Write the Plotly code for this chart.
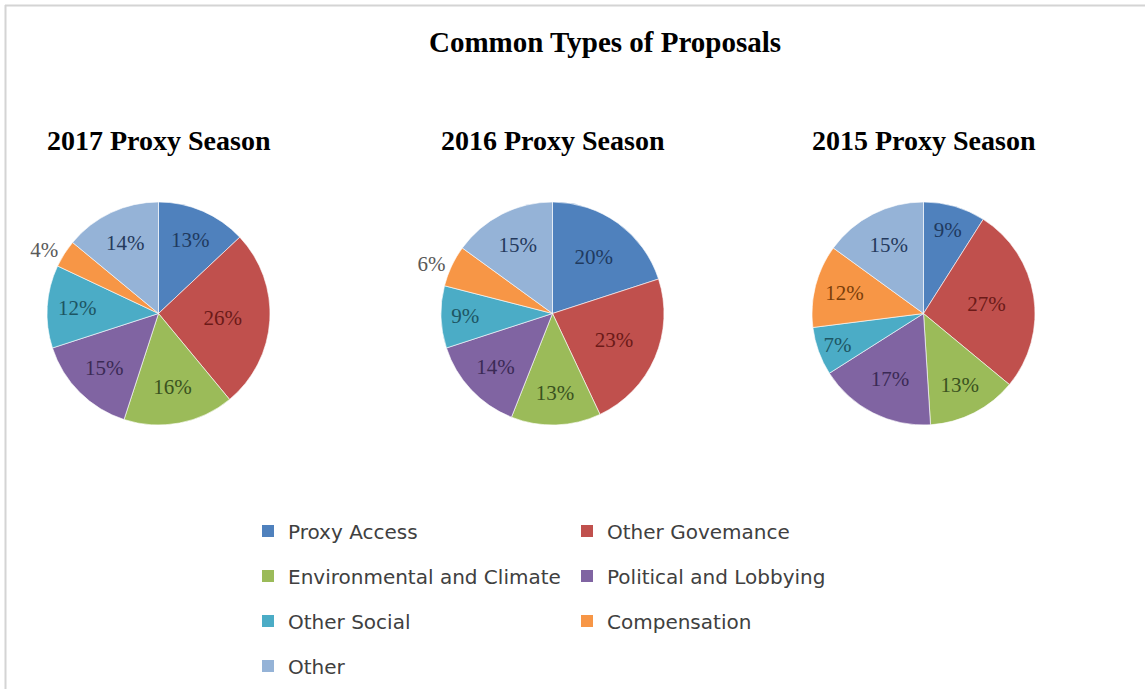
import plotly.graph_objects as go

# Proposal categories, in slice order (clockwise from 12 o'clock)
categories = [
    "Proxy Access",
    "Other Governance",
    "Environmental and Climate",
    "Political and Lobbying",
    "Other Social",
    "Compensation",
    "Other",
]
legend_names = [
    "Proxy Access",
    "Other Govemance",
    "Environmental and Climate",
    "Political and Lobbying",
    "Other Social",
    "Compensation",
    "Other",
]

# Share of proposals (%) per season
season_titles = ["2017 Proxy Season", "2016 Proxy Season", "2015 Proxy Season"]
values_2017 = [13, 26, 16, 15, 12, 4, 14]
values_2016 = [20, 23, 13, 14, 9, 6, 15]
values_2015 = [9, 27, 13, 17, 7, 12, 15]

# Which labels sit outside their slice
positions_2017 = ["inside", "inside", "inside", "inside", "inside", "outside", "inside"]
positions_2016 = ["inside", "inside", "inside", "inside", "inside", "outside", "inside"]
positions_2015 = ["inside"] * 7

slice_colors = ["#4F81BD", "#C0504D", "#9BBB59", "#8064A2", "#4BACC6", "#F79646", "#95B3D7"]
label_colors = ["#1F3A5F", "#6B1A18", "#3A5220", "#3B2A55", "#1D5563", "#7A3E0A", "#24395C"]

W, H = 1145, 689
SERIF = "Liberation Serif, Times New Roman, serif"
SANS = "DejaVu Sans, Open Sans, sans-serif"

# Pie boxes in pixels: (left, right, top, bottom)
pie_boxes = [(47, 270, 202, 425), (441, 664, 202, 425), (812, 1035, 202, 425)]
series = [values_2017, values_2016, values_2015]
positions = [positions_2017, positions_2016, positions_2015]

fig = go.Figure()

for vals, pos, box in zip(series, positions, pie_boxes):
    l, r, t, b = box
    fig.add_trace(go.Pie(
        labels=categories,
        values=vals,
        sort=False,
        direction="clockwise",
        rotation=0,
        texttemplate="%{value}%",
        textposition=pos,
        insidetextorientation="horizontal",
        insidetextfont=dict(family=SERIF, size=21, color=label_colors),
        outsidetextfont=dict(family=SERIF, size=21, color="#595959"),
        marker=dict(colors=slice_colors, line=dict(color="rgba(255,255,255,0.6)", width=1)),
        showlegend=False,
        hoverinfo="label+percent",
        domain=dict(x=[l / W, r / W], y=[1 - b / H, 1 - t / H]),
    ))

# Legend entries: two per row, each row is its own legend
legend_rows = ["legend", "legend", "legend2", "legend2", "legend3", "legend3", "legend4"]
for name, color, lg in zip(legend_names, slice_colors, legend_rows):
    fig.add_trace(go.Scatter(
        x=[None], y=[None], mode="markers", name=name, legend=lg,
        marker=dict(symbol="square", size=12, color=color),
        hoverinfo="skip",
    ))

row_y = [531, 576, 621, 666]
legend_common = dict(
    orientation="h",
    xref="paper", yref="paper",
    x=248 / W, xanchor="left", yanchor="middle",
    entrywidth=274, entrywidthmode="pixels",
    font=dict(family=SANS, size=20, color="#404040"),
    bgcolor="rgba(0,0,0,0)", borderwidth=0,
)
legend_layout = {}
for i, key in enumerate(["legend", "legend2", "legend3", "legend4"]):
    legend_layout[key] = dict(legend_common, y=1 - row_y[i] / H)

annotations = []
for title, box in zip(season_titles, pie_boxes):
    l, r, t, b = box
    annotations.append(dict(
        text=f"<b>{title}</b>", x=(l + r) / 2 / W, y=1 - 140 / H,
        xref="paper", yref="paper", xanchor="center", yanchor="middle",
        showarrow=False, font=dict(family=SERIF, size=28, color="#000000"),
    ))

fig.update_layout(
    width=W, height=H,
    margin=dict(l=0, r=0, t=0, b=0),
    paper_bgcolor="white", plot_bgcolor="white",
    title=dict(
        text="<b>Common Types of Proposals</b>",
        x=605 / W, xanchor="center", y=1 - 42 / H, yanchor="middle",
        xref="container", yref="container",
        font=dict(family=SERIF, size=29, color="#000000"),
    ),
    xaxis=dict(visible=False), yaxis=dict(visible=False),
    annotations=annotations,
    shapes=[
        dict(type="line", xref="paper", yref="paper", x0=5 / W, x1=1, y0=1 - 5.5 / H, y1=1 - 5.5 / H,
             line=dict(color="#D4D4D4", width=2)),
        dict(type="line", xref="paper", yref="paper", x0=5.5 / W, x1=5.5 / W, y0=0, y1=1 - 5 / H,
             line=dict(color="#D4D4D4", width=2)),
    ],
    **legend_layout,
)

fig.write_html("out.html")
